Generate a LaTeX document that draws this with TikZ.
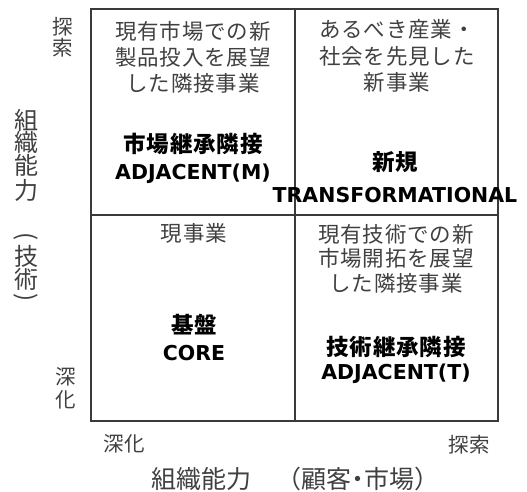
\documentclass[tikz,border=0pt]{standalone}
\usepackage{fontspec}
\usepackage{graphicx}
\setmainfont{Noto Sans CJK JP}
\newfontfamily\cjkd{Noto Sans CJK JP}[LetterSpace=4]
\newfontfamily\cjkb{Noto Sans CJK JP}[LetterSpace=4]
\newfontfamily\cjka{Noto Sans CJK JP}
\newfontfamily\latb{DejaVu Sans}
\definecolor{txtgray}{HTML}{404040}
\definecolor{linegray}{HTML}{3A3A3A}
\begin{document}
\begin{tikzpicture}[x=1pt,y=-1pt,
  desc/.style={font=\cjkd\fontsize{21.5}{21.5}\selectfont, text=txtgray, inner sep=0pt, text height=15.9pt, text depth=0pt, anchor=center},
  ttl/.style={font=\cjkb\bfseries\fontsize{22.5}{22.5}\selectfont, text=black, inner sep=0pt, text height=16.6pt, text depth=0pt, anchor=center},
  lat/.style={font=\latb\bfseries\fontsize{20.5}{20.5}\selectfont, text=black, inner sep=0pt, text height=15pt, text depth=0pt, anchor=center},
  axs/.style={font=\cjka\fontsize{20.5}{20.5}\selectfont, text=txtgray, inner sep=0pt, text height=15.2pt, text depth=0pt, anchor=center},
  axt/.style={font=\cjka\fontsize{24}{24}\selectfont, text=txtgray, inner sep=0pt, text height=17.8pt, text depth=0pt, anchor=center},
  axp/.style={font=\cjka\fontsize{24}{24}\selectfont, text=txtgray, inner sep=0pt, anchor=center},
  frame/.style={draw=linegray, line width=1.3pt}
]
\useasboundingbox (0,0) rectangle (527,491);
% grid
\coordinate (tl) at (91,9);
\coordinate (br) at (498,421);
\coordinate (mt) at (295,9);
\coordinate (mb) at (295,421);
\coordinate (ml) at (91,215);
\coordinate (mr) at (498,215);
\draw[frame] (tl) rectangle (br);
\draw[frame] (mt) -- (mb);
\draw[frame] (ml) -- (mr);
% top-left
\node[desc] (tl1) at (193,32) {現有市場での新};
\node[desc] (tl2) at (193,58) {製品投入を展望};
\node[desc] (tl3) at (193,84) {した隣接事業};
\node[ttl] (tlt) at (193,144) {市場継承隣接};
\node[lat] (tle) at (193,172) {ADJACENT(M)};
% top-right
\node[desc] (tr1) at (397,30) {あるべき産業・};
\node[desc] (tr2) at (397,57) {社会を先見した};
\node[desc] (tr3) at (397,83) {新事業};
\node[ttl] (trt) at (395,162) {新規};
\node[lat] (tre) at (395,195) {TRANSFORMATIONAL};
% bottom-left
\node[desc] (bl1) at (194,234) {現事業};
\node[ttl] (blt) at (194,325) {基盤};
\node[lat] (ble) at (194,353) {CORE};
% bottom-right
\node[desc] (br1) at (396,235) {現有技術での新};
\node[desc] (br2) at (396,259) {市場開拓を展望};
\node[desc] (br3) at (396,284) {した隣接事業};
\node[ttl] (brt) at (396,347) {技術継承隣接};
\node[lat] (bre) at (396,372) {ADJACENT(T)};
% left axis small labels
\node[axs] (ly1) at (63,27) {探};
\node[axs] (ly2) at (63,48) {索};
\node[axs] (ly3) at (66,377) {深};
\node[axs] (ly4) at (66,400) {化};
% bottom axis small labels
\node[axs] (bx1) at (124,444) {深化};
\node[axs] (bx2) at (469,445) {探索};
% vertical axis title
\node[axt] (v1) at (26,121) {組};
\node[axt] (v2) at (26,143) {織};
\node[axt] (v3) at (26,166) {能};
\node[axt] (v4) at (26,191) {力};
\node[axp] (v5) at (26,237) {\rotatebox{-90}{(}};
\node[axt] (v6) at (26,257) {技};
\node[axt] (v7) at (26,280) {術};
\node[axp] (v8) at (26,298) {\rotatebox{-90}{)}};
% bottom axis title
\node[axt, anchor=west, font=\cjka\fontsize{25}{25}\selectfont] (bt) at (151,480) {組織能力　（顧客\kern-6pt・\kern-6pt市場）};
\end{tikzpicture}
\end{document}
